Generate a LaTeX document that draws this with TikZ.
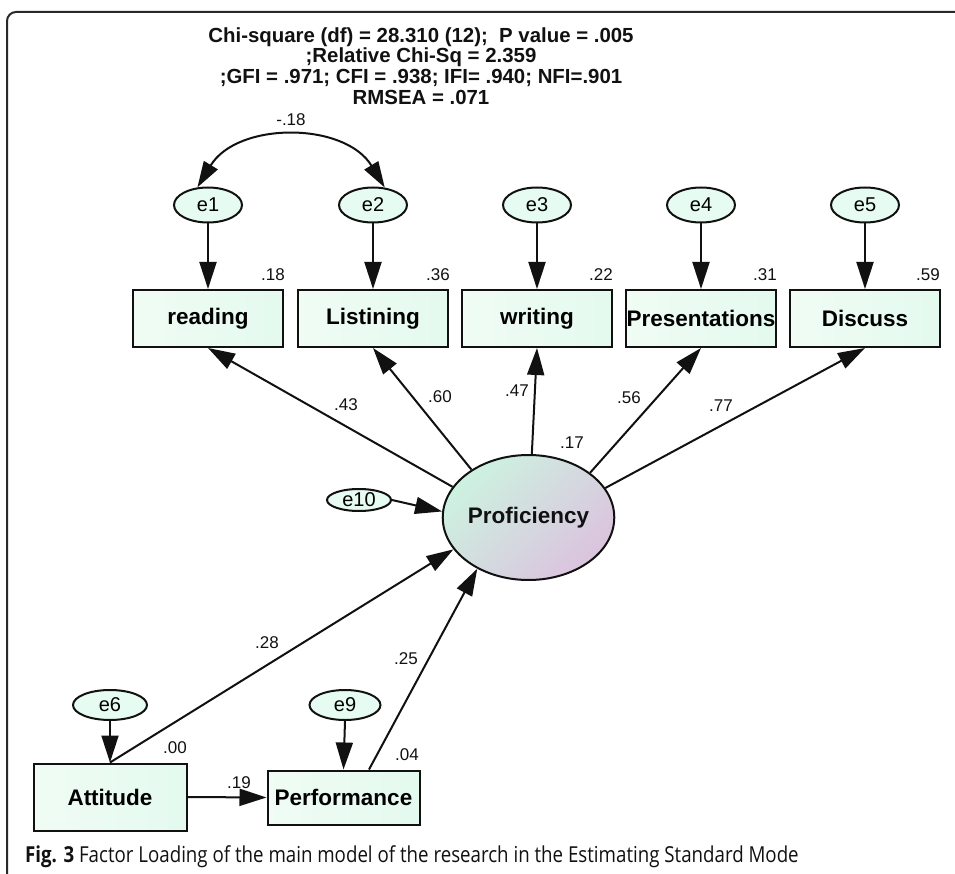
\documentclass[tikz,border=0pt]{standalone}
\usepackage{fontspec}
\setmainfont{Liberation Sans}
\newfontfamily\capfont[FakeStretch=0.85]{Open Sans}
\usetikzlibrary{shapes.geometric,arrows.meta}

\definecolor{boxfill}{HTML}{E4FAEE}
\definecolor{boxlight}{HTML}{F0FCF4}
\definecolor{errfill}{HTML}{E6FBF1}
\definecolor{latmint}{HTML}{CDF2E0}
\definecolor{latlav}{HTML}{DBC3DE}
\definecolor{ink}{HTML}{111111}

\tikzset{
  obs/.style={draw=ink, line width=2pt, left color=boxlight, right color=boxfill,
    minimum width=150pt, minimum height=57pt, inner sep=0pt,
    font=\fontsize{22.5}{27}\selectfont\bfseries},
  err/.style={ellipse, draw=ink, line width=2pt, fill=errfill,
    minimum width=68pt, minimum height=35pt, inner sep=0pt,
    font=\fontsize{20}{24}\selectfont},
  coef/.style={font=\fontsize{17}{20}\selectfont, inner sep=0pt, text=ink},
  regpath/.style={draw=ink, line width=2pt, -{Triangle[length=27pt,width=17pt]}},
  covpath/.style={draw=ink, line width=2pt,
    {Triangle[length=26pt,width=16pt]}-{Triangle[length=26pt,width=16pt]}},
}

\begin{document}
\begin{tikzpicture}[x=1pt,y=-1pt]
\useasboundingbox (0,0) rectangle (955,874);
\clip (0,0) rectangle (955,874);

% panel frame
\draw[line width=2pt, draw=ink!90, rounded corners=9pt] (7,890) -- (7,12) -- (970,12);

% fit statistics
\node[align=center, font=\fontsize{20.4}{20.8}\selectfont\bfseries, text=ink, inner sep=0pt]
  (fit) at (421,66) {Chi-square (df) = 28.310 (12);\ \ P value = .005\\
  ;Relative Chi-Sq = 2.359\\
  ;GFI = .971; CFI = .938; IFI= .940; NFI=.901\\
  RMSEA = .071};

% error terms of the indicators
\node[err] (e1) at (208,205) {e1};
\node[err] (e2) at (373,205) {e2};
\node[err] (e3) at (537,205) {e3};
\node[err] (e4) at (701,205) {e4};
\node[err] (e5) at (865,205) {e5};

% indicators
\node[obs] (reading) at (208,318.5) {reading};
\node[obs] (listen)  at (373,318.5) {Listining};
\node[obs] (writing) at (537,318.5) {writing};
\node[obs] (present) at (701,318.5) {Presentations};
\node[obs] (discuss) at (865,318.5) {Discuss};

% latent factor
\node[ellipse, draw=ink, line width=2pt, minimum width=167pt, minimum height=125pt,
  inner sep=0pt, top color=latmint, bottom color=latlav, shading angle=45,
  font=\fontsize{22.5}{27}\selectfont\bfseries, text=ink]
  (prof) at (528.5,517.5) {Proficiency};
\node[err, minimum width=64pt, minimum height=22pt] (e10) at (359,500) {e10};

% predictors
\node[err, minimum width=74pt, minimum height=30pt] (e6) at (110,705) {e6};
\node[err, minimum width=71pt, minimum height=30pt] (e9) at (345,705) {e9};
\node[obs, minimum width=153pt, minimum height=67pt] (att)  at (110,797) {Attitude};
\node[obs, minimum width=152pt, minimum height=54pt] (perf) at (343.5,797.5) {Performance};

% covariance between e1 and e2
\draw[covpath] (e1.121) .. controls +(40,-66) and +(-40,-66) .. (e2.56);
\node[coef] (c12) at (291,120) {-.18};

% error paths
\foreach \e/\b in {e1/reading, e2/listen, e3/writing, e4/present, e5/discuss}
  \draw[regpath] (\e.south) -- (\b.north);
\draw[regpath] (e6.south) -- (att.north);
\draw[regpath] (e9.south) -- (perf.north);
\draw[regpath] (e10.east) -- (prof.176);

% loadings
\draw[regpath] (prof.158) -- (reading.south);
\draw[regpath] (prof.140) -- (listen.south);
\draw[regpath] (prof.87)  -- (writing.south);
\draw[regpath] (prof.36)  -- (present.south);
\draw[regpath] (prof.21)  -- (discuss.south);

% structural paths
\draw[regpath] (att.north) -- (prof.203.6);
\draw[regpath] ([xshift=25.5pt]perf.north) -- (prof.225.5);
\draw[regpath] (att.east) -- (perf.west);

% squared multiple correlations
\node[coef] (r1) at (273,275) {.18};
\node[coef] (r2) at (438,275) {.36};
\node[coef] (r3) at (601,275) {.22};
\node[coef] (r4) at (765,275) {.31};
\node[coef] (r5) at (928,275) {.59};
\node[coef] (rp) at (572,443) {.17};
\node[coef] (ra) at (175,748) {.00};
\node[coef] (rf) at (407,755) {.04};

% path coefficients
\node[coef] (l1) at (346,405) {.43};
\node[coef] (l2) at (440,397) {.60};
\node[coef] (l3) at (517,391) {.47};
\node[coef] (l4) at (629,398) {.56};
\node[coef] (l5) at (721,406) {.77};
\node[coef] (b1) at (267,643) {.28};
\node[coef] (b2) at (406,659) {.25};
\node[coef] (b3) at (239,783) {.19};

% caption
\node[anchor=west, inner sep=0pt, text=ink, font=\capfont\fontsize{22}{26}\selectfont]
  (cap) at (25,857) {\textbf{Fig. 3} Factor Loading of the main model of the research in the Estimating Standard Mode};
\end{tikzpicture}
\end{document}
